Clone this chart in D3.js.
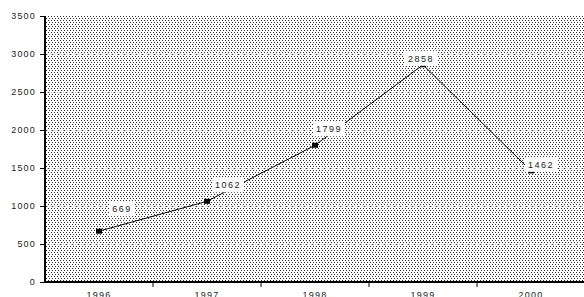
<!DOCTYPE html>
<html>
<head>
<meta charset="utf-8">
<script src="https://cdn.jsdelivr.net/npm/d3@7"></script>
<style>
  body { margin: 0; background: #fff; }
  svg { display: block; }
</style>
</head>
<body>
<div id="viz"></div>
<script>
const years = ["1996", "1997", "1998", "1999", "2000"];
const values = [669, 1062, 1799, 2858, 1462];
const yTicks = [0, 500, 1000, 1500, 2000, 2500, 3000, 3500];
// label nudges relative to each point (dx, dy)
const labelOffsets = [[23, -22], [21, -16], [14, -16], [-2, -6], [10, -6]];

const WIDTH = 584, HEIGHT = 297;
const margin = { left: 45, top: 16, right: -1, bottom: 15 };
const plotW = WIDTH - margin.left - margin.right;
const plotH = HEIGHT - margin.top - margin.bottom;

const svg = d3.select("#viz").append("svg")
  .attr("width", WIDTH)
  .attr("height", HEIGHT);

// stippled plot background
const defs = svg.append("defs");
const pat = defs.append("pattern")
  .attr("id", "dots")
  .attr("patternUnits", "userSpaceOnUse")
  .attr("width", 6)
  .attr("height", 4);
pat.append("rect").attr("width", 6).attr("height", 4).attr("fill", "#fff");
[[0, 0], [3, 0], [1, 2], [4, 2]].forEach(([px, py]) => {
  pat.append("rect").attr("x", px).attr("y", py).attr("width", 1).attr("height", 1).attr("fill", "#333");
});

const x = d3.scaleBand().domain(years).range([0, plotW]);
const y = d3.scaleLinear().domain([0, 3500]).range([plotH, 0]);

const g = svg.append("g").attr("transform", `translate(${margin.left},${margin.top})`);

g.append("rect")
  .attr("width", plotW)
  .attr("height", plotH)
  .attr("fill", "url(#dots)");

// gridlines
g.selectAll("line.grid")
  .data(yTicks.filter(d => d > 0 && d < 3500))
  .join("line")
  .attr("class", "grid")
  .attr("x1", 0)
  .attr("x2", plotW)
  .attr("y1", d => Math.round(y(d)) + 0.5)
  .attr("y2", d => Math.round(y(d)) + 0.5)
  .attr("stroke", "#c8c8c8")
  .attr("stroke-width", 1)
  .attr("stroke-dasharray", "1,1");

// y axis
const yAxis = g.append("g")
  .call(d3.axisLeft(y).tickValues(yTicks).tickSize(5).tickFormat(d3.format("d")));
yAxis.select(".domain").remove();
yAxis.selectAll("text")
  .attr("font-family", "Liberation Sans, Arial, sans-serif")
  .attr("font-size", 9)
  .attr("letter-spacing", 1.2)
  .attr("fill", "#222")
  .attr("x", -9);
g.append("line")
  .attr("x1", 0).attr("x2", 0)
  .attr("y1", 0).attr("y2", plotH)
  .attr("stroke", "#000").attr("stroke-width", 2);

// x axis
const xAxis = g.append("g")
  .attr("transform", `translate(0,${plotH})`)
  .call(d3.axisBottom(x).tickSize(0).tickPadding(10));
xAxis.select(".domain").remove();
xAxis.selectAll("text")
  .attr("font-family", "Liberation Sans, Arial, sans-serif")
  .attr("font-size", 9)
  .attr("letter-spacing", 1.2)
  .attr("fill", "#222");
g.append("g")
  .selectAll("line")
  .data(years.slice(1))
  .join("line")
  .attr("x1", d => x(d)).attr("x2", d => x(d))
  .attr("y1", plotH).attr("y2", plotH + 5)
  .attr("stroke", "#000");
g.append("line")
  .attr("x1", -1).attr("x2", plotW)
  .attr("y1", plotH).attr("y2", plotH)
  .attr("stroke", "#000").attr("stroke-width", 2);

// line
const pts = years.map((yr, i) => ({ yr, v: values[i], off: labelOffsets[i] }));
const line = d3.line()
  .x(d => x(d.yr) + x.bandwidth() / 2)
  .y(d => y(d.v));
g.append("path")
  .datum(pts)
  .attr("d", line)
  .attr("fill", "none")
  .attr("stroke", "#000")
  .attr("stroke-width", 1);

g.selectAll("rect.marker")
  .data(pts)
  .join("rect")
  .attr("class", "marker")
  .attr("x", d => x(d.yr) + x.bandwidth() / 2 - 3)
  .attr("y", d => y(d.v) - 2.5)
  .attr("width", 6)
  .attr("height", 5)
  .attr("fill", "#000");

// data labels
const lab = g.selectAll("g.lab")
  .data(pts)
  .join("g")
  .attr("class", "lab")
  .attr("transform", d => `translate(${x(d.yr) + x.bandwidth() / 2 + d.off[0]},${y(d.v) + d.off[1]})`);
lab.append("rect")
  .attr("x", -16).attr("y", -8)
  .attr("width", 32).attr("height", 15)
  .attr("fill", "#fff");
lab.filter((d, i) => i === 0).select("rect").attr("x", -13).attr("width", 26);
lab.append("text")
  .attr("text-anchor", "middle")
  .attr("dy", "0.35em")
  .attr("font-family", "Liberation Sans, Arial, sans-serif")
  .attr("font-size", 9)
  .attr("letter-spacing", 1.5)
  .attr("fill", "#222")
  .text(d => d.v);
</script>
</body>
</html>
